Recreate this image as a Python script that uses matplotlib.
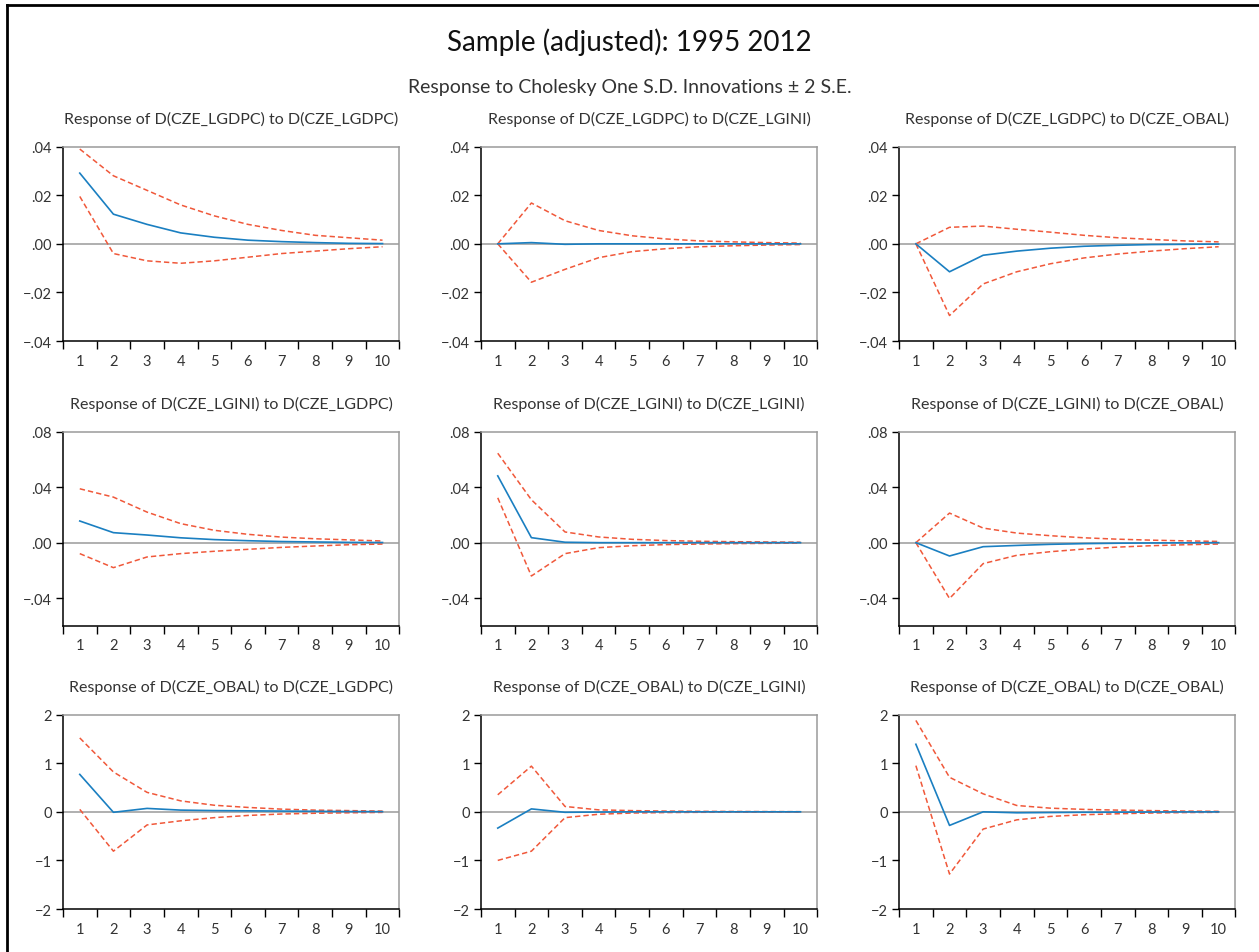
import matplotlib
matplotlib.use("Agg")
import matplotlib.pyplot as plt
from matplotlib.lines import Line2D

plt.rcParams['font.family'] = ['Lato', 'DejaVu Sans']

periods = [1, 2, 3, 4, 5, 6, 7, 8, 9, 10]
variables = ["D(CZE_LGDPC)", "D(CZE_LGINI)", "D(CZE_OBAL)"]

# response[row][col] = (impulse response, upper band, lower band)
resp_gdp_gdp = [0.0291, 0.0122, 0.008, 0.0045, 0.0027, 0.0015, 0.0009, 0.0005, 0.0002, 0.0001]
up_gdp_gdp = [0.039, 0.028, 0.022, 0.016, 0.0115, 0.008, 0.0055, 0.0035, 0.0025, 0.0015]
lo_gdp_gdp = [0.0195, -0.004, -0.007, -0.008, -0.007, -0.0055, -0.004, -0.003, -0.002, -0.0012]

resp_gdp_gini = [0.0, 0.0005, -0.0002, 0.0, 0.0, 0.0, 0.0, 0.0, 0.0, 0.0]
up_gdp_gini = [0.0, 0.0168, 0.0095, 0.0055, 0.0033, 0.002, 0.0012, 0.0008, 0.0005, 0.0003]
lo_gdp_gini = [0.0, -0.0158, -0.0105, -0.0057, -0.0032, -0.002, -0.0012, -0.0008, -0.0005, -0.0003]

resp_gdp_obal = [0.0, -0.0115, -0.0047, -0.003, -0.0018, -0.001, -0.0006, -0.0003, -0.0002, -0.0001]
up_gdp_obal = [0.0, 0.0068, 0.0073, 0.006, 0.0048, 0.0035, 0.0025, 0.0018, 0.0012, 0.0008]
lo_gdp_obal = [0.0, -0.0295, -0.0165, -0.0115, -0.0082, -0.0058, -0.0042, -0.003, -0.002, -0.0012]

resp_gini_gdp = [0.0156, 0.0072, 0.0055, 0.0035, 0.0022, 0.0014, 0.0008, 0.0005, 0.0002, 0.0001]
up_gini_gdp = [0.0388, 0.0328, 0.022, 0.0137, 0.0089, 0.006, 0.004, 0.0028, 0.002, 0.0012]
lo_gini_gdp = [-0.0079, -0.018, -0.0103, -0.0079, -0.0062, -0.0048, -0.0034, -0.0024, -0.0015, -0.001]

resp_gini_gini = [0.0481, 0.0036, 0.0003, 0.0, 0.0, 0.0, 0.0, 0.0, 0.0, 0.0]
up_gini_gini = [0.0644, 0.0309, 0.0077, 0.0041, 0.0024, 0.0015, 0.001, 0.0007, 0.0005, 0.0003]
lo_gini_gini = [0.0323, -0.024, -0.0079, -0.0036, -0.0022, -0.0014, -0.001, -0.0007, -0.0005, -0.0003]

resp_gini_obal = [0.0, -0.0096, -0.0029, -0.002, -0.0012, -0.0007, -0.0004, -0.0002, -0.0001, 0.0]
up_gini_obal = [0.0, 0.0213, 0.0105, 0.0069, 0.005, 0.0035, 0.0025, 0.0018, 0.0013, 0.0009]
lo_gini_obal = [0.0, -0.0402, -0.0151, -0.0091, -0.0065, -0.0046, -0.0032, -0.0022, -0.0015, -0.001]

resp_obal_gdp = [0.77, -0.01, 0.07, 0.035, 0.025, 0.02, 0.015, 0.01, 0.005, 0.003]
up_obal_gdp = [1.52, 0.82, 0.40, 0.225, 0.135, 0.09, 0.055, 0.035, 0.025, 0.015]
lo_obal_gdp = [0.05, -0.81, -0.27, -0.185, -0.12, -0.075, -0.045, -0.03, -0.02, -0.012]

resp_obal_gini = [-0.335, 0.06, -0.01, -0.005, 0.0, 0.0, 0.0, 0.0, 0.0, 0.0]
up_obal_gini = [0.35, 0.94, 0.11, 0.04, 0.025, 0.015, 0.01, 0.007, 0.005, 0.003]
lo_obal_gini = [-1.0, -0.81, -0.12, -0.05, -0.025, -0.015, -0.01, -0.007, -0.005, -0.003]

resp_obal_obal = [1.39, -0.28, 0.0, -0.02, -0.015, -0.01, -0.007, -0.004, -0.002, -0.001]
up_obal_obal = [1.88, 0.71, 0.37, 0.13, 0.075, 0.05, 0.035, 0.025, 0.015, 0.01]
lo_obal_obal = [0.95, -1.28, -0.355, -0.165, -0.095, -0.06, -0.04, -0.025, -0.015, -0.01]

panels = [
    [(resp_gdp_gdp, up_gdp_gdp, lo_gdp_gdp),
     (resp_gdp_gini, up_gdp_gini, lo_gdp_gini),
     (resp_gdp_obal, up_gdp_obal, lo_gdp_obal)],
    [(resp_gini_gdp, up_gini_gdp, lo_gini_gdp),
     (resp_gini_gini, up_gini_gini, lo_gini_gini),
     (resp_gini_obal, up_gini_obal, lo_gini_obal)],
    [(resp_obal_gdp, up_obal_gdp, lo_obal_gdp),
     (resp_obal_gini, up_obal_gini, lo_obal_gini),
     (resp_obal_obal, up_obal_obal, lo_obal_obal)],
]

# y axis per row
row_ylim = [(-0.04, 0.04), (-0.06, 0.08), (-2, 2)]
row_yticks = [[-0.04, -0.02, 0.0, 0.02, 0.04],
              [-0.04, 0.0, 0.04, 0.08],
              [-2, -1, 0, 1, 2]]
row_ylabels = [["\u2212.04", "\u2212.02", ".00", ".02", ".04"],
               ["\u2212.04", ".00", ".04", ".08"],
               ["\u22122", "\u22121", "0", "1", "2"]]

blue = "#1a7fc1"
red = "#f0583a"
grey = "#9a9a9a"
txt = "#333333"

fig = plt.figure(figsize=(12.59, 9.53), dpi=100)

# frame lines of the original image (top and left)
fig.add_artist(Line2D([0.0056, 0.0056], [0, 0.994], color="black", lw=2, transform=fig.transFigure))
fig.add_artist(Line2D([0.0056, 1], [0.994, 0.994], color="black", lw=2, transform=fig.transFigure))

fig.text(0.5, 0.956, "Sample (adjusted): 1995 2012", ha="center", va="center", fontsize=20,
         color="#111111")
fig.text(0.5, 0.908, "Response to Cholesky One S.D. Innovations \u00b1 2 S.E.", ha="center", va="center",
         fontsize=14, color=txt)

lefts = [0.0500, 0.3820, 0.7141]
bottoms = [0.6411, 0.3421, 0.0451]
width = 0.2672
height = 0.2040

for r in range(3):
    for c in range(3):
        ax = fig.add_axes([lefts[c], bottoms[r], width, height])
        resp, up, lo = panels[r][c]
        ax.axhline(0, color=grey, lw=1.1, zorder=1)
        ax.plot(periods, up, color=red, lw=1.1, ls=(0, (3.5, 2)), zorder=2)
        ax.plot(periods, lo, color=red, lw=1.1, ls=(0, (3.5, 2)), zorder=2)
        ax.plot(periods, resp, color=blue, lw=1.2, zorder=3)

        ax.set_xlim(0.5, 10.5)
        ax.set_ylim(*row_ylim[r])

        ax.set_xticks([p - 0.5 for p in periods] + [10.5])
        ax.set_xticklabels([])
        ax.set_xticks(periods, minor=True)
        ax.set_xticklabels([str(p) for p in periods], minor=True)
        ax.tick_params(axis="x", which="major", direction="out", length=6, width=1, color="black")
        ax.tick_params(axis="x", which="minor", length=0, pad=9, labelsize=10.5, labelcolor=txt)

        ax.set_yticks(row_yticks[r])
        ax.set_yticklabels(row_ylabels[r])
        ax.tick_params(axis="y", direction="out", length=5, width=1, color="black",
                       labelsize=10.5, labelcolor=txt, pad=3)

        for side in ["top", "right"]:
            ax.spines[side].set_color(grey)
            ax.spines[side].set_linewidth(1.1)
        for side in ["left", "bottom"]:
            ax.spines[side].set_color("black")
            ax.spines[side].set_linewidth(1.1)

        ax.set_title("Response of %s to %s" % (variables[r], variables[c]),
                     fontsize=11.5, color=txt, pad=17)

fig.savefig("out.png", dpi=100)
